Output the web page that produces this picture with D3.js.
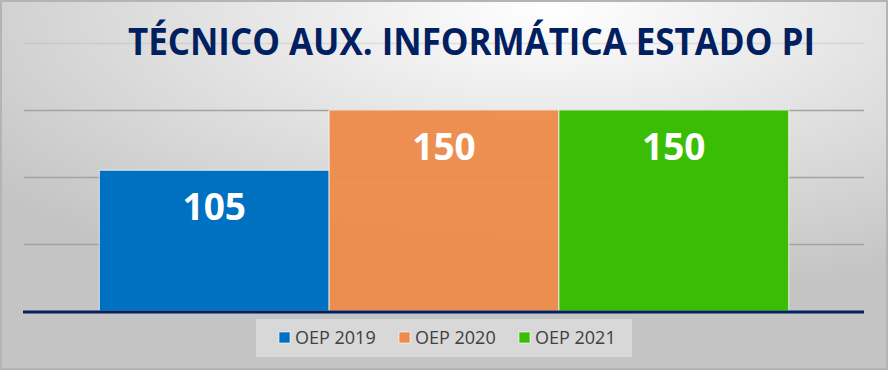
<!DOCTYPE html>
<html>
<head>
<meta charset="utf-8">
<script src="https://cdn.jsdelivr.net/npm/d3@7"></script>
<style>
	html, body { margin: 0; padding: 0; background: #fff; }
	svg { display: block; }
</style>
</head>
<body>
<script>
var title = "TÉCNICO AUX. INFORMÁTICA ESTADO PI";
var series = ["OEP 2019", "OEP 2020", "OEP 2021"];
var values = [105, 150, 150];
var colors = ["#0070c0", "#ec8b4b", "#3abe05"];
var yTicks = [0, 50, 100, 150, 200];

var width = 888;
var height = 370;
var plotLeft = 24;
var plotRight = 864;
var plotTop = 43;
var plotBottom = 311;

var svg = d3
	.select("body")
	.append("svg")
	.attr("width", width)
	.attr("height", height);

// background gradient
var defs = svg.append("defs");
var grad = defs
	.append("radialGradient")
	.attr("id", "bg")
	.attr("cx", 0.62)
	.attr("cy", 0.02)
	.attr("r", 0.8);
grad.append("stop").attr("offset", "0%").attr("stop-color", "#ffffff");
grad.append("stop").attr("offset", "100%").attr("stop-color", "#c4c4c4");

svg
	.append("rect")
	.attr("x", 1)
	.attr("y", 1)
	.attr("width", width - 2)
	.attr("height", height - 2)
	.style("fill", "url(#bg)")
	.style("stroke", "#b4b4b4")
	.style("stroke-width", 2);

var y = d3.scaleLinear().domain([0, 200]).range([plotBottom, plotTop]);
var x = d3
	.scaleBand()
	.domain(series)
	.range([plotLeft, plotRight])
	.paddingInner(0)
	.paddingOuter(0.328);

// gridlines
var grid = svg
	.append("g")
	.attr("transform", "translate(" + plotLeft + ",0)")
	.call(
		d3.axisLeft(y)
			.tickValues(yTicks.slice(1))
			.tickSize(-(plotRight - plotLeft))
			.tickFormat("")
	);
grid.select(".domain").remove();
grid
	.selectAll(".tick line")
	.style("stroke", "#a3a3a3")
	.style("stroke-width", 1.5)
	.style("opacity", (d) => {
		return d === 200 ? 0.25 : 1;
	});

// title
svg
	.append("text")
	.attr("x", 128)
	.attr("y", 55)
	.attr("textLength", 687)
	.attr("lengthAdjust", "spacingAndGlyphs")
	.style("font-family", "'Open Sans', sans-serif")
	.style("font-weight", "bold")
	.style("font-size", "37px")
	.style("fill", "#002060")
	.text(title);

// bars
var data = series.map((s, i) => {
	return { name: s, value: values[i], color: colors[i] };
});

svg
	.selectAll(".bar")
	.data(data)
	.join("rect")
	.attr("class", "bar")
	.attr("x", (d) => x(d.name))
	.attr("y", (d) => y(d.value))
	.attr("width", x.bandwidth())
	.attr("height", (d) => y(0) - y(d.value))
	.style("fill", (d) => d.color)
	.style("fill-opacity", (d, i) => (i === 1 ? 0.96 : 1))
	.style("stroke", "#ffffff")
	.style("stroke-opacity", 0.6)
	.style("stroke-width", 1.2);

svg
	.selectAll(".label")
	.data(data)
	.join("text")
	.attr("class", "label")
	.attr("x", (d) => x(d.name) + x.bandwidth() / 2)
	.attr("y", (d) => y(d.value) + 50)
	.attr("text-anchor", "middle")
	.style("font-family", "'Open Sans', sans-serif")
	.style("font-weight", "bold")
	.style("font-size", "37px")
	.style("fill", "#ffffff")
	.text((d) => d.value);

// baseline
svg
	.append("line")
	.attr("x1", plotLeft - 1)
	.attr("x2", plotRight)
	.attr("y1", y(0) + 1)
	.attr("y2", y(0) + 1)
	.style("stroke", "#002060")
	.style("stroke-width", 3);

// legend
var legend = svg.append("g");
legend
	.append("rect")
	.attr("x", 256)
	.attr("y", 319)
	.attr("width", 376)
	.attr("height", 38)
	.style("fill", "#ffffff")
	.style("fill-opacity", 0.35);

var item = legend
	.selectAll(".item")
	.data(data)
	.join("g")
	.attr("class", "item")
	.attr("transform", (d, i) => "translate(" + (279 + i * 120) + ",332)");

item
	.append("rect")
	.attr("width", 11)
	.attr("height", 11)
	.style("fill", (d) => d.color)
	.style("stroke", "#ffffff")
	.style("stroke-opacity", 0.6)
	.style("stroke-width", 1);

item
	.append("text")
	.attr("x", 16)
	.attr("y", 12)
	.style("font-family", "'Open Sans', sans-serif")
	.style("font-size", "18px")
	.style("fill", "#404040")
	.text((d) => d.name);
</script>
</body>
</html>
